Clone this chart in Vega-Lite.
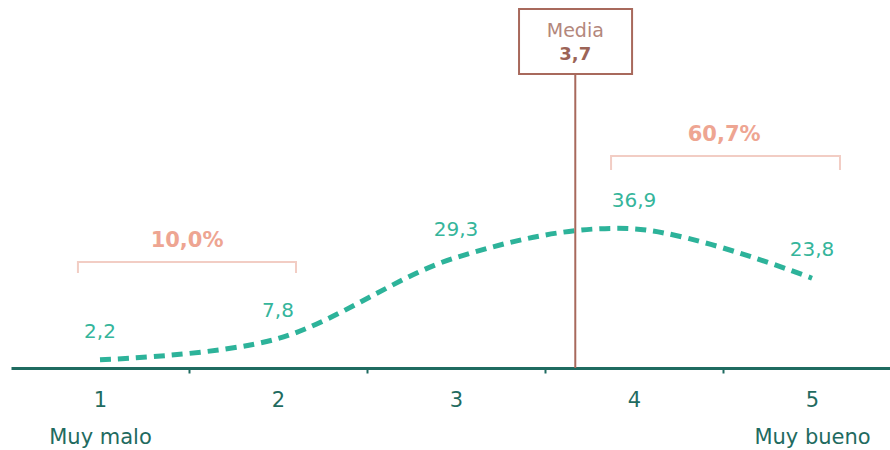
{
  "$schema": "https://vega.github.io/schema/vega-lite/v6.json",
  "width": 879,
  "height": 368,
  "autosize": "none",
  "padding": {"left": 11, "top": 0, "right": 0, "bottom": 82},
  "background": "white",
  "config": {"view": {"stroke": null}, "font": "DejaVu Sans"},
  "datasets": {
    "dist": [
      {"score": 1, "pct": 2.2, "label": "2,2"},
      {"score": 2, "pct": 7.8, "label": "7,8"},
      {"score": 3, "pct": 29.3, "label": "29,3"},
      {"score": 4, "pct": 36.9, "label": "36,9"},
      {"score": 5, "pct": 23.8, "label": "23,8"}
    ],
    "brackets": [
      {"group": "low", "ord": 1, "score": 0.876, "pct": 25.2},
      {"group": "low", "ord": 2, "score": 0.876, "pct": 28.1},
      {"group": "low", "ord": 3, "score": 2.101, "pct": 28.1},
      {"group": "low", "ord": 4, "score": 2.101, "pct": 25.2},
      {"group": "high", "ord": 1, "score": 3.871, "pct": 52.5},
      {"group": "high", "ord": 2, "score": 3.871, "pct": 56.2},
      {"group": "high", "ord": 3, "score": 5.157, "pct": 56.2},
      {"group": "high", "ord": 4, "score": 5.157, "pct": 52.5}
    ],
    "shares": [
      {"score": 1.489, "pct": 33.7, "label": "10,0%"},
      {"score": 4.506, "pct": 61.8, "label": "60,7%"}
    ],
    "mean": [
      {"score": 3.67, "pct": 0, "pct2": 78, "left": 3.354, "right": 3.989, "boxTop": 95.2}
    ]
  },
  "layer": [
    {
      "data": {"name": "brackets"},
      "mark": {"type": "line", "color": "#f2cdc4", "strokeWidth": 2},
      "encoding": {
        "x": {"field": "score", "type": "quantitative",
          "scale": {"domain": [0.5, 5.438], "nice": false, "zero": false},
          "axis": {
            "values": [1, 2, 3, 4, 5],
            "tickOffset": 89,
            "labelOffset": -89,
            "domainColor": "#1f6b60",
            "domainWidth": 3,
            "tickColor": "#1f6b60",
            "tickWidth": 2,
            "tickSize": 5,
            "labelColor": "#1f6b60",
            "labelFontSize": 21,
            "labelPadding": 16,
            "labelLineHeight": 37,
            "labelFlush": false,
            "labelOverlap": false,
            "labelBound": false,
            "labelExpr": "datum.value == 1 ? ['1', 'Muy malo'] : datum.value == 5 ? ['5', 'Muy bueno'] : format(datum.value, 'd')",
            "grid": false,
            "title": null
          }
        },
        "y": {"field": "pct", "type": "quantitative", "scale": {"domain": [0, 97.6], "nice": false}, "axis": null},
        "detail": {"field": "group"},
        "order": {"field": "ord"}
      }
    },
    {
      "data": {"name": "shares"},
      "mark": {"type": "text", "color": "#eea592", "fontSize": 21, "fontWeight": "bold", "baseline": "middle"},
      "encoding": {
        "x": {"field": "score", "type": "quantitative"},
        "y": {"field": "pct", "type": "quantitative"},
        "text": {"field": "label"}
      }
    },
    {
      "data": {"name": "dist"},
      "mark": {"type": "line", "interpolate": "cardinal", "strokeDash": [11, 7], "strokeWidth": 5, "color": "#2db39a"},
      "encoding": {
        "x": {"field": "score", "type": "quantitative"},
        "y": {"field": "pct", "type": "quantitative"}
      }
    },
    {
      "data": {"name": "dist"},
      "mark": {"type": "text", "dy": -28, "fontSize": 20, "color": "#35b59b", "baseline": "middle"},
      "encoding": {
        "x": {"field": "score", "type": "quantitative"},
        "y": {"field": "pct", "type": "quantitative"},
        "text": {"field": "label"}
      }
    },
    {
      "data": {"name": "mean"},
      "mark": {"type": "rule", "color": "#a8695c", "strokeWidth": 2},
      "encoding": {
        "x": {"field": "score", "type": "quantitative"},
        "y": {"field": "pct", "type": "quantitative"},
        "y2": {"field": "pct2"}
      }
    },
    {
      "data": {"name": "mean"},
      "mark": {"type": "rect", "fill": "white", "stroke": "#a8695c", "strokeWidth": 2},
      "encoding": {
        "x": {"field": "left", "type": "quantitative"},
        "x2": {"field": "right"},
        "y": {"field": "pct2", "type": "quantitative"},
        "y2": {"field": "boxTop"}
      }
    },
    {
      "data": {"name": "mean"},
      "mark": {"type": "text", "fontSize": 19, "color": "#b3877c", "baseline": "middle", "dy": 22, "text": "Media"},
      "encoding": {
        "x": {"field": "score", "type": "quantitative"},
        "y": {"field": "boxTop", "type": "quantitative"}
      }
    },
    {
      "data": {"name": "mean"},
      "mark": {"type": "text", "fontSize": 18, "fontWeight": "bold", "color": "#9c6457", "baseline": "middle", "dy": -19, "text": "3,7"},
      "encoding": {
        "x": {"field": "score", "type": "quantitative"},
        "y": {"field": "pct2", "type": "quantitative"}
      }
    }
  ]
}
